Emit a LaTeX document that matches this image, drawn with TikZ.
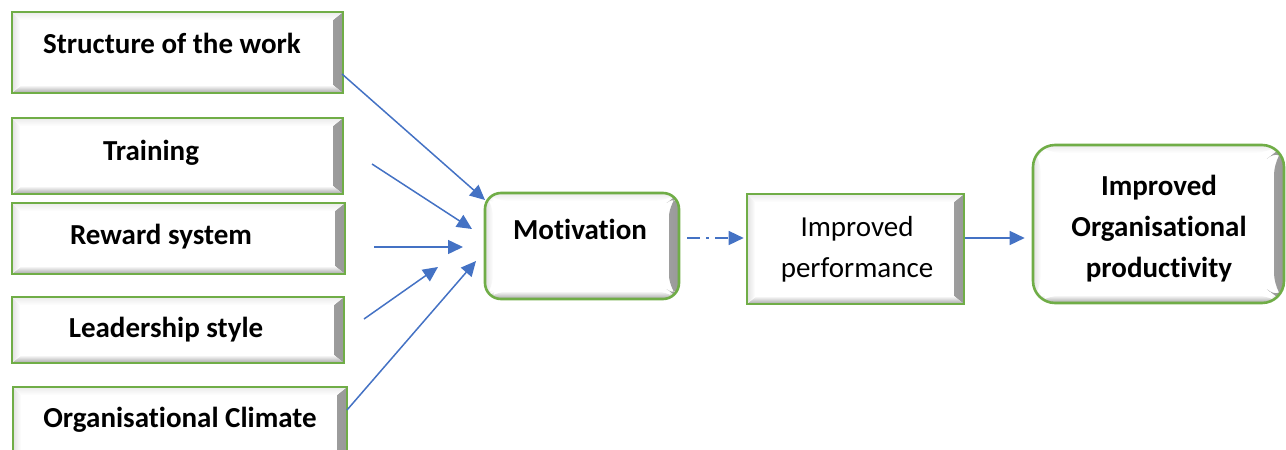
\documentclass[tikz,border=0pt]{standalone}
\usepackage{fontspec}
\setmainfont{Carlito}[Ligatures=NoCommon]
\usetikzlibrary{fit}
\usetikzlibrary{arrows.meta}

\definecolor{boxgreen}{HTML}{70AD47}
\definecolor{arrowblue}{HTML}{4472C4}

\tikzset{
  % bevelled look: grey strips fading in from the edges
  bevel/.style={path picture={
    \shade[left color=white,right color=black!40]
      ([xshift=-5pt,yshift=-4pt]path picture bounding box.north east)
      -- (path picture bounding box.north east)
      -- (path picture bounding box.south east)
      -- ([xshift=-5pt,yshift=4pt]path picture bounding box.south east) -- cycle;
    \shade[top color=white,bottom color=black!35]
      ([xshift=5pt,yshift=4pt]path picture bounding box.south west)
      -- ([xshift=-5pt,yshift=4pt]path picture bounding box.south east)
      -- (path picture bounding box.south east)
      -- (path picture bounding box.south west) -- cycle;
    \shade[right color=white,left color=black!12]
      (path picture bounding box.north west)
      -- ([xshift=4pt,yshift=-4pt]path picture bounding box.north west)
      -- ([xshift=4pt,yshift=4pt]path picture bounding box.south west)
      -- (path picture bounding box.south west) -- cycle;
    \shade[bottom color=white,top color=black!8]
      (path picture bounding box.north west)
      -- (path picture bounding box.north east)
      -- ([xshift=-5pt,yshift=-4pt]path picture bounding box.north east)
      -- ([xshift=4pt,yshift=-4pt]path picture bounding box.north west) -- cycle;
  }},
  box/.style={draw=boxgreen,line width=1.3pt,fill=white,inner sep=0pt,bevel},
  rbox/.style={box,rounded corners=8pt},
  lbl/.style={font=\fontsize{14.5}{20.5}\selectfont\bfseries,inner sep=0pt,anchor=base},
  arr/.style={draw=arrowblue,line width=0.75pt,-{Triangle[length=7.5pt,width=7pt]}}
}

\begin{document}
\begin{tikzpicture}[x=0.5pt,y=-0.5pt]
  \useasboundingbox (0,0) rectangle (1286,450);
  \clip (0,0) rectangle (1286,450);

  % factors on the left
  \node[box,fit={(12,12) (343,93)}] (work) {};
  \node[lbl] at (172,53) (work-t) {Structure of the work};
  \node[box,fit={(12,118) (343,194)}] (train) {};
  \node[lbl] at (151,160) (train-t) {Training};
  \node[box,fit={(12,203) (345,274)}] (reward) {};
  \node[lbl] at (161,244) (reward-t) {Reward system};
  \node[box,fit={(12,297) (344,363)}] (lead) {};
  \node[lbl] at (166,337) (lead-t) {Leadership style};
  \node[box,fit={(13,387) (347,462)}] (climate) {};
  \node[lbl] at (180,427) (climate-t) {Organisational Climate};

  % chain on the right
  \node[rbox,fit={(485,193) (679,299)}] (motiv) {};
  \node[lbl] at (580,239) (motiv-t) {Motivation};
  \node[box,fit={(747,194) (964,304)}] (perf) {};
  \node[lbl,font=\fontsize{14.5}{20.5}\selectfont,align=center,anchor=center]
    at (857,249) (perf-t) {Improved\\performance};
  \node[rbox,rounded corners=11pt,fit={(1033,145) (1284,303)}] (prod) {};
  \node[lbl,align=center,anchor=center] at (1159,229) (prod-t)
    {Improved\\Organisational\\productivity};

  % free ends of the arrows
  \coordinate (t1) at (342,74);   \coordinate (h1) at (485,200);
  \coordinate (t2) at (372,164);  \coordinate (h2) at (472,229);
  \coordinate (t3) at (374,247);  \coordinate (h3) at (463,247);
  \coordinate (t4) at (364,319);  \coordinate (h4) at (438,267);
  \coordinate (t5) at (347,410);  \coordinate (h5) at (476,261);

  \draw[arr] (t1) -- (h1);
  \draw[arr] (t2) -- (h2);
  \draw[arr] (t3) -- (h3);
  \draw[arr] (t4) -- (h4);
  \draw[arr] (t5) -- (h5);

  \draw[arr,dash pattern=on 6.5pt off 3pt on 1.5pt off 3pt]
    ([xshift=3.5pt,yshift=4pt]motiv.east) -- ([xshift=-1pt,yshift=4pt]motiv.east -| perf.west);
  \draw[arr] ([yshift=5.5pt]perf.east) -- ([xshift=-3.5pt,yshift=5.5pt]perf.east -| prod.west);
\end{tikzpicture}
\end{document}
